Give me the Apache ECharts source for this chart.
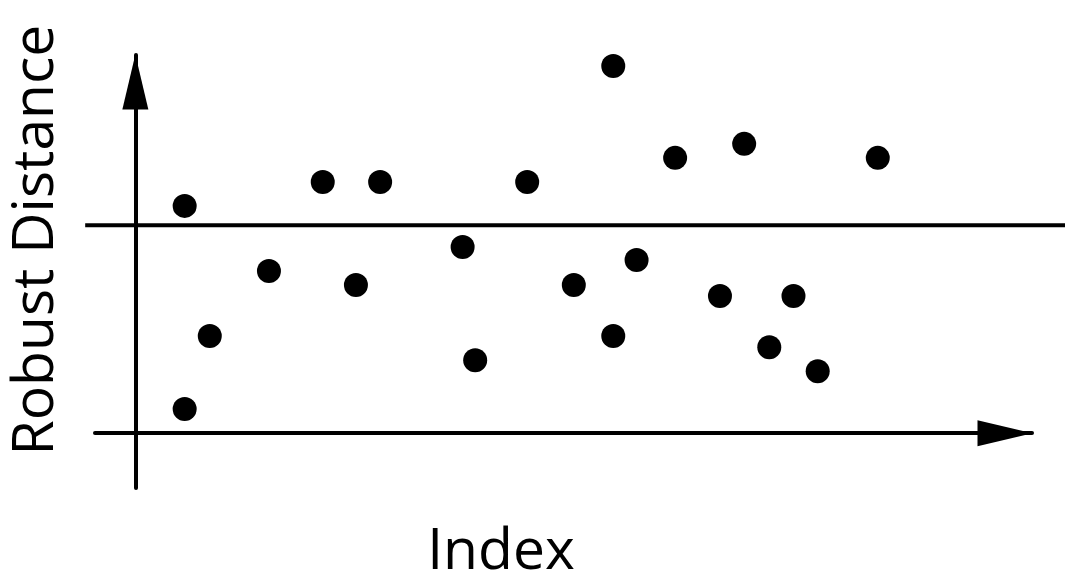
<!DOCTYPE html>
<html>
<head>
<meta charset="utf-8">
<script src="https://cdn.jsdelivr.net/npm/echarts@6/dist/echarts.min.js"></script>
<style>
  html, body { margin: 0; padding: 0; background: #fff; }
  #chart { width: 1065px; height: 581px; }
</style>
</head>
<body>
<div id="chart"></div>
<script>
// index positions and robust distances
const indexValues = [5.5, 5.5, 8.3, 14.9, 20.9, 24.6, 27.3, 36.5, 37.9, 43.7, 48.9,
  53.3, 53.3, 55.9, 60.2, 65.2, 67.9, 70.7, 73.4, 76.1, 82.8];
const robustDistances = [60.1, 6.4, 25.7, 42.9, 66.4, 39.2, 66.4, 49.2, 19.3, 66.4, 39.2,
  97.1, 25.7, 45.8, 72.8, 36.3, 76.5, 22.7, 36.3, 16.4, 72.8];
// cutoff line (runs past the axes, to the right edge)
const cutoffX = [-5.6, 103.7];
const cutoffY = 55;

const points = indexValues.map((x, i) => [x, robustDistances[i]]);

const myChart = echarts.init(document.getElementById('chart'));

const axisCommon = {
  type: 'value',
  axisLine: {
    onZero: true,
    symbol: ['none', 'triangle'],
    symbolSize: [26, 55],
    symbolOffset: [0, -27],
    lineStyle: { color: '#000', width: 4 }
  },
  axisTick: { show: false },
  axisLabel: { show: false },
  splitLine: { show: false }
};

const hiddenAxis = {
  type: 'value',
  show: false,
  axisLine: { show: false },
  axisTick: { show: false },
  axisLabel: { show: false },
  splitLine: { show: false }
};

const option = {
  backgroundColor: '#fff',
  animation: false,
  grid: [
    { left: 95, right: 33, top: 55, bottom: 93, outerBoundsMode: 'none' },
    // same scale, full width, so the cutoff line can reach the edge
    { left: 0, right: 0, top: 55, bottom: 93, outerBoundsMode: 'none' }
  ],
  xAxis: [
    Object.assign({}, axisCommon, { gridIndex: 0, min: -4.5, max: 100 }),
    Object.assign({}, hiddenAxis, { gridIndex: 1, min: -15.1, max: 103.67 })
  ],
  yAxis: [
    Object.assign({}, axisCommon, { gridIndex: 0, min: -14.5, max: 100 }),
    Object.assign({}, hiddenAxis, { gridIndex: 1, min: -14.5, max: 100 })
  ],
  graphic: [
    {
      type: 'text',
      x: 37, y: 240,
      rotation: Math.PI / 2,
      style: {
        text: 'Robust Distance',
        font: '57px "Open Sans"',
        fill: '#000',
        align: 'center',
        verticalAlign: 'middle'
      }
    },
    {
      type: 'text',
      x: 501, y: 553,
      style: {
        text: 'Index',
        font: '57px "Open Sans"',
        fill: '#000',
        align: 'center',
        verticalAlign: 'middle'
      }
    }
  ],
  series: [
    {
      type: 'line',
      xAxisIndex: 1,
      yAxisIndex: 1,
      data: cutoffX.map(x => [x, cutoffY]),
      symbol: 'none',
      lineStyle: { color: '#000', width: 4 },
      silent: true
    },
    {
      type: 'scatter',
      data: points,
      symbolSize: 24,
      itemStyle: { color: '#000', opacity: 1 }
    }
  ]
};

myChart.setOption(option);
</script>
</body>
</html>
